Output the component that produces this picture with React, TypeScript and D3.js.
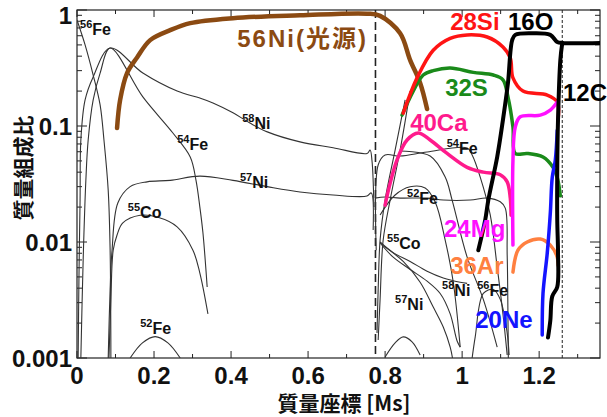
import React from "react";
import * as d3 from "d3";

type P = [number, number];

const xTicks = [0, 0.2, 0.4, 0.6, 0.8, 1, 1.2];
const xTickLabels = ["0", "0.2", "0.4", "0.6", "0.8", "1", "1.2"];
const yTicks = [0.001, 0.01, 0.1, 1];
const yTickLabels = ["0.001", "0.01", "0.1", "1"];
const shellBoundaries = [0.775, 1.26];

// thick coloured series (mass coordinate [Ms], mass fraction)
const ni56: P[] = [[0.104,0.096],[0.112,0.168],[0.13,0.286],[0.156,0.39],[0.19,0.55],[0.242,0.67],[0.294,0.77],[0.405,0.85],[0.579,0.9],[0.753,0.93],[0.787,0.89],[0.839,0.63],[0.865,0.37],[0.891,0.235],[0.909,0.14]];
const si28: P[] = [[0.847,0.129],[0.883,0.26],[0.925,0.45],[0.969,0.57],[1.013,0.61],[1.065,0.585],[1.106,0.48],[1.125,0.386],[1.132,0.26],[1.158,0.2],[1.221,0.185],[1.247,0.161],[1.249,0.113]];
const s32: P[] = [[0.844,0.124],[0.873,0.2],[0.899,0.275],[0.925,0.3],[0.969,0.316],[1.029,0.29],[1.081,0.275],[1.106,0.25],[1.119,0.178],[1.132,0.098],[1.138,0.058],[1.169,0.058],[1.21,0.054],[1.236,0.044],[1.247,0.036],[1.255,0.025]];
const ca40: P[] = [[0.8,0.0208],[0.813,0.032],[0.831,0.051],[0.857,0.0757],[0.886,0.087],[0.917,0.0757],[0.961,0.058],[1.013,0.044],[1.055,0.04],[1.099,0.038],[1.117,0.033],[1.125,0.024],[1.127,0.017]];
const mg24: P[] = [[1.132,0.0094],[1.132,0.051],[1.138,0.098],[1.151,0.12],[1.203,0.124],[1.229,0.137],[1.247,0.161]];
const o16: P[] = [[1.042,0.0085],[1.06,0.0155],[1.068,0.023],[1.091,0.054],[1.106,0.113],[1.119,0.235],[1.13,0.55],[1.138,0.61],[1.184,0.63],[1.229,0.61],[1.247,0.53],[1.26,0.52],[1.358,0.52]];
const c12: P[] = [[1.26,0.52],[1.255,0.37],[1.249,0.113],[1.247,0.042],[1.247,0.0155],[1.249,0.008],[1.247,0.0041],[1.234,0.0034],[1.229,0.0021],[1.223,0.0015]];
const ne20: P[] = [[1.208,0.00158],[1.21,0.0036],[1.221,0.008],[1.229,0.0178],[1.234,0.036],[1.242,0.051],[1.247,0.092]];
const ar36: P[] = [[1.132,0.0055],[1.145,0.0085],[1.169,0.01],[1.203,0.0106],[1.229,0.0094],[1.247,0.0074],[1.249,0.0063]];

// thin black series, inner (left) region
const fe56Left: P[] = [[0,0.82],[0.021,0.5],[0.042,0.275],[0.06,0.152],[0.07,0.0757],[0.081,0.028],[0.086,0.0085],[0.088,0.001]];
const ni58Left: P[] = [[0.003,0.001],[0.005,0.0047],[0.008,0.023],[0.01,0.0757],[0.021,0.168],[0.042,0.265],[0.086,0.47],[0.171,0.286],[0.26,0.2],[0.319,0.174],[0.353,0.158],[0.405,0.13],[0.449,0.106],[0.494,0.089],[0.579,0.073],[0.665,0.065],[0.753,0.058],[0.761,0.062],[0.766,0.05],[0.771,0.02]];
const fe54Left: P[] = [[0.01,0.001],[0.016,0.007],[0.023,0.034],[0.029,0.0757],[0.042,0.168],[0.06,0.286],[0.086,0.47],[0.171,0.178],[0.249,0.087],[0.294,0.054],[0.309,0.034],[0.319,0.02],[0.327,0.012],[0.338,0.0041]];
const co55Left: P[] = [[0.083,0.001],[0.088,0.0032],[0.094,0.0085],[0.104,0.0115],[0.119,0.0146],[0.164,0.017],[0.208,0.0164],[0.26,0.0135],[0.301,0.0085],[0.319,0.0054],[0.34,0.0024]];
const ni57Left: P[] = [[0.081,0.001],[0.086,0.0039],[0.091,0.0085],[0.106,0.0217],[0.138,0.03],[0.182,0.033],[0.242,0.034],[0.319,0.037],[0.405,0.034],[0.494,0.03],[0.579,0.027],[0.665,0.0254],[0.753,0.0249],[0.764,0.0265],[0.769,0.0127]];
const fe52Left: P[] = [[0.138,0.001],[0.17,0.00135],[0.203,0.00153],[0.236,0.00135],[0.268,0.001]];

// thin black series, outer (right) region
const fe54Right: P[] = [[0.777,0.0085],[0.782,0.0461],[0.8,0.0562],[0.839,0.0551],[0.909,0.0597],[1.013,0.0646],[1.026,0.0562],[1.047,0.0363],[1.073,0.0171],[1.091,0.0061],[1.106,0.0024],[1.117,0.00106]];
const flatRight: P[] = [[0.774,0.0239],[0.8,0.0244],[0.839,0.0239],[0.909,0.0239],[0.951,0.023],[1.021,0.023],[1.065,0.0239],[1.099,0.0222],[1.112,0.0196],[1.117,0.0077],[1.119,0.0023],[1.12,0.001]];
const fe52Right: P[] = [[0.787,0.0171],[0.826,0.0254],[0.865,0.0299],[0.904,0.0292],[0.93,0.0221],[0.956,0.0104],[0.977,0.0045],[0.995,0.00124]];
const slopeRight: P[] = [[0.839,0.0609],[0.917,0.0551],[0.956,0.0363],[0.974,0.023],[1.013,0.0074],[1.055,0.0032],[1.091,0.00124]];
const co55Right: P[] = [[0.787,0.01],[0.821,0.0081],[0.865,0.0068],[0.909,0.0056],[0.951,0.0049],[0.995,0.0045],[1.013,0.0044]];
const ni58Right: P[] = [[0.787,0.0098],[0.821,0.0074],[0.865,0.0058],[0.909,0.0046],[0.943,0.0036],[0.969,0.0024],[0.987,0.0014],[0.995,0.00124]];
const ni57Right: P[] = [[0.795,0.0093],[0.847,0.0068],[0.891,0.0045],[0.925,0.00275],[0.951,0.00185],[0.969,0.00124],[0.975,0.001]];
const fe56Right: P[] = [[1.026,0.001],[1.034,0.00152],[1.055,0.0036],[1.081,0.0039],[1.099,0.0032],[1.117,0.00164],[1.122,0.00106]];
const arcRight: P[] = [[0.8,0.00102],[0.826,0.00135],[0.847,0.00152],[0.87,0.00138],[0.891,0.00106]];
const diagA: P[] = [[0.852,0.168],[0.826,0.062],[0.8,0.023],[0.787,0.0104],[0.782,0.0039],[0.779,0.00164]];
const diagB: P[] = [[0.865,0.2],[0.839,0.0621],[0.813,0.023],[0.795,0.0104],[0.787,0.0032],[0.782,0.00143]];

const thinSeries = [fe56Left, ni58Left, fe54Left, co55Left, ni57Left, fe52Left, fe54Right, flatRight, fe52Right, slopeRight, co55Right, ni58Right, ni57Right, fe56Right, arcRight, diagA, diagB];

const thickSeries: { data: P[]; color: string; width: number }[] = [
  { data: ni56, color: "#8B4A12", width: 4.5 },
  { data: s32, color: "#1a8a1a", width: 3.5 },
  { data: si28, color: "#ff1414", width: 3.5 },
  { data: ca40, color: "#ff1a8c", width: 3.5 },
  { data: mg24, color: "#ff10ff", width: 3.5 },
  { data: ar36, color: "#ff8040", width: 3.5 },
  { data: ne20, color: "#1414ff", width: 3.5 },
  { data: o16, color: "#000000", width: 4 },
  { data: c12, color: "#000000", width: 4 },
];

const bigLabels: { text: string; at: P; color: string; spacing: number }[] = [
  { text: "56Ni(光源)", at: [0.416, 0.48], color: "#8B4A12", spacing: 2 },
  { text: "28Si", at: [0.969, 0.67], color: "#ff1414", spacing: 0 },
  { text: "16O", at: [1.119, 0.67], color: "#000000", spacing: 0 },
  { text: "32S", at: [0.956, 0.18], color: "#1a8a1a", spacing: 0 },
  { text: "12C", at: [1.262, 0.164], color: "#000000", spacing: 0 },
  { text: "40Ca", at: [0.865, 0.0906], color: "#ff1a8c", spacing: 0 },
  { text: "24Mg", at: [0.953, 0.011], color: "#ff10ff", spacing: 0 },
  { text: "36Ar", at: [0.969, 0.0053], color: "#ff8040", spacing: 0 },
  { text: "20Ne", at: [1.034, 0.0018], color: "#1414ff", spacing: 0 },
];

const isoLabels: { mass: string; el: string; at: P }[] = [
  { mass: "56", el: "Fe", at: [0.008, 0.61] },
  { mass: "58", el: "Ni", at: [0.429, 0.094] },
  { mass: "54", el: "Fe", at: [0.26, 0.062] },
  { mass: "57", el: "Ni", at: [0.423, 0.0292] },
  { mass: "55", el: "Co", at: [0.132, 0.0161] },
  { mass: "52", el: "Fe", at: [0.164, 0.00161] },
  { mass: "54", el: "Fe", at: [0.96, 0.0575] },
  { mass: "52", el: "Fe", at: [0.857, 0.0213] },
  { mass: "55", el: "Co", at: [0.805, 0.0087] },
  { mass: "58", el: "Ni", at: [0.948, 0.0034] },
  { mass: "57", el: "Ni", at: [0.826, 0.0026] },
  { mass: "56", el: "Fe", at: [1.039, 0.0034] },
];

const W = 607;
const H = 417;
const L = 77, R = 600, T = 10, B = 358;
const FONT = "'Liberation Sans', Arial, 'Noto Sans CJK JP', sans-serif";
const CJK = "'Noto Sans CJK JP', 'Liberation Sans', sans-serif";

export default function App() {
  const x = d3.scaleLinear().domain([0, 1.358]).range([L, R]);
  const y = d3.scaleLog().domain([0.001, 1]).range([B, T]);
  const line = d3
    .line<P>()
    .x((d) => x(d[0]))
    .y((d) => y(d[1]))
    .curve(d3.curveCatmullRom.alpha(0.5));

  const xMinor = d3.range(0.1, 1.36, 0.2);
  const yMinor: number[] = [];
  [0.001, 0.01, 0.1].forEach((dec) => {
    for (let k = 2; k <= 9; k++) yMinor.push(dec * k);
  });

  return (
    <svg
      width={W}
      height={H}
      style={{ position: "absolute", left: 0, top: 0, background: "#fff" }}
    >
      <defs>
        <clipPath id="plot">
          <rect x={L} y={T - 2} width={R - L} height={B - T + 2} />
        </clipPath>
      </defs>

      {/* frame */}
      <rect x={L} y={T} width={R - L} height={B - T} fill="none" stroke="#222" strokeWidth={1.2} />

      {/* x ticks */}
      {xTicks.map((v) => (
        <g key={"xt" + v}>
          <line x1={x(v)} x2={x(v)} y1={B} y2={B - 7} stroke="#222" />
          <line x1={x(v)} x2={x(v)} y1={T} y2={T + 7} stroke="#222" />
        </g>
      ))}
      {xMinor.map((v) => (
        <g key={"xm" + v}>
          <line x1={x(v)} x2={x(v)} y1={B} y2={B - 4} stroke="#222" />
          <line x1={x(v)} x2={x(v)} y1={T} y2={T + 4} stroke="#222" />
        </g>
      ))}
      {/* y ticks */}
      {yTicks.map((v) => (
        <g key={"yt" + v}>
          <line x1={L} x2={L + 10} y1={y(v)} y2={y(v)} stroke="#222" />
          <line x1={R} x2={R - 10} y1={y(v)} y2={y(v)} stroke="#222" />
        </g>
      ))}
      {yMinor.map((v) => (
        <g key={"ym" + v}>
          <line x1={L} x2={L + 5} y1={y(v)} y2={y(v)} stroke="#222" />
          <line x1={R} x2={R - 5} y1={y(v)} y2={y(v)} stroke="#222" />
        </g>
      ))}

      {/* tick labels */}
      {xTicks.map((v, i) => (
        <text key={"xl" + v} x={x(v)} y={384} textAnchor="middle" fontFamily={FONT} fontWeight="bold" fontSize={24} fill="#111">
          {xTickLabels[i]}
        </text>
      ))}
      {yTicks.map((v, i) => (
        <text key={"yl" + v} x={72} y={Math.max(y(v) + 8.5, 24)} textAnchor="end" fontFamily={FONT} fontWeight="bold" fontSize={24} fill="#111">
          {yTickLabels[i]}
        </text>
      ))}

      {/* axis titles */}
      <text x={344} y={411} textAnchor="middle" fontFamily={CJK} fontWeight="bold" fontSize={21} fill="#111">
        質量座標 [Ms]
      </text>
      <text transform="translate(31,168) rotate(-90)" textAnchor="middle" fontFamily={CJK} fontWeight="bold" fontSize={21} fill="#111">
        質量組成比
      </text>

      {/* shell boundaries */}
      <line x1={x(shellBoundaries[0])} x2={x(shellBoundaries[0])} y1={T} y2={B} stroke="#222" strokeWidth={1.6} strokeDasharray="8,4" />
      <line x1={x(shellBoundaries[1])} x2={x(shellBoundaries[1])} y1={T} y2={B} stroke="#222" strokeWidth={1} strokeDasharray="3,2" />

      <g clipPath="url(#plot)">
        {thinSeries.map((d, i) => (
          <path key={"thin" + i} d={line(d) || ""} fill="none" stroke="#333" strokeWidth={1.1} />
        ))}
        {thickSeries.map((s, i) => (
          <path key={"thick" + i} d={line(s.data) || ""} fill="none" stroke={s.color} strokeWidth={s.width} strokeLinejoin="round" strokeLinecap="round" />
        ))}
      </g>

      {/* species labels */}
      {bigLabels.map((l) => (
        <text key={l.text} x={x(l.at[0])} y={y(l.at[1])} fontFamily={FONT} fontWeight="bold" fontSize={24} letterSpacing={l.spacing} fill={l.color}>
          {l.text}
        </text>
      ))}
      {isoLabels.map((l, i) => (
        <text key={"iso" + i} x={x(l.at[0])} y={y(l.at[1])} fontFamily={FONT} fontWeight="bold" fill="#111">
          <tspan fontSize={11} dy={-7}>{l.mass}</tspan>
          <tspan fontSize={16} dy={7}>{l.el}</tspan>
        </text>
      ))}
    </svg>
  );
}
